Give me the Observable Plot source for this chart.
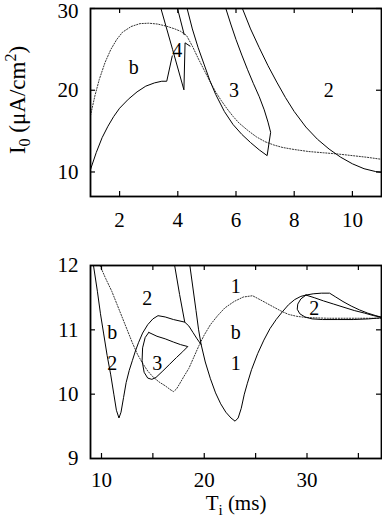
<!DOCTYPE html>
<html><head><meta charset="utf-8">
<script src="https://cdn.jsdelivr.net/npm/d3@7"></script>
<script src="https://cdn.jsdelivr.net/npm/@observablehq/plot@0.6"></script>
<style>
html,body{margin:0;padding:0;background:#fff;}
#chart{width:382px;}
#chart svg{display:block;}
#chart svg, #chart svg text{font-family:"Liberation Serif","Times New Roman","DejaVu Serif",serif !important;}
</style></head><body><div id="chart"></div>
<script>
const FONT = "Liberation Serif";

// ---------- top panel data (Ti in ms, I0 in uA/cm2) ----------
const topXTicks = [2, 4, 6, 8, 10];
const topYLabels = [10, 20];
const topYEdgeLabels = [30];
const topYTicks = [10, 20, 30];
const topDotted = [[1,16.9],[1.15,19.3],[1.3,21.3],[1.5,23.4],[1.7,25.0],[1.9,26.2],[2.1,27.1],[2.4,27.8],[2.7,28.15],[3.0,28.2],[3.3,28.1],[3.6,27.85],[3.9,27.5],[4.1,27.2],[4.3,26.7],[4.5,25.4],[4.7,23.9],[4.9,22.5],[5.1,21.1],[5.3,19.8],[5.5,18.7],[5.7,17.7],[5.9,16.8],[6.1,16.0],[6.4,15.1],[6.7,14.3],[7.0,13.7],[7.3,13.3],[7.6,13.0],[8.0,12.75],[8.5,12.5],[9.0,12.35],[9.5,12.2],[10.0,12.0],[10.5,11.8],[11.0,11.55]];
const topLowerB = [[1,10.3],[1.2,12.4],[1.4,14.2],[1.6,15.6],[1.8,16.8],[2.0,17.8],[2.3,18.9],[2.6,19.8],[2.9,20.5],[3.2,20.9],[3.45,21.1],[3.62,21.1],[3.81,24.2]];
const topWedge = [[3.42,30],[3.82,25.0],[4.21,20.05],[4.25,25.8],[4.42,25.4]];
const topWedgeRight = [[3.99,30],[4.22,26.8]];
const topRegion3 = [[4.32,30],[4.5,27.5],[4.7,25.2],[4.9,23.2],[5.1,21.2],[5.3,19.5],[5.6,17.4],[5.9,15.8],[6.2,14.6],[6.5,13.6],[6.8,12.7],[7.07,12.0],[7.19,14.85],[7.1,16.1],[6.97,17.6],[6.8,19.2],[6.6,20.8],[6.4,22.5],[6.2,24.3],[6.0,26.2],[5.82,28.1],[5.65,30]];
const topRegion2 = [[6.22,30],[6.5,27.5],[6.8,25.2],[7.1,23.0],[7.4,21.0],[7.7,19.1],[8.0,17.4],[8.4,15.5],[8.8,14.0],[9.2,12.8],[9.6,11.8],[10.0,11.0],[10.4,10.4],[10.8,10.05],[11,9.95]];
const topLabelText = ["b", "4", "3", "2"];
const topLabelX = [2.49, 3.98, 5.93, 9.19];
const topLabelY = [22.8, 24.9, 20.0, 20.0];

// ---------- bottom panel data ----------
const botXLabels = [10, 20, 30];
const botXTicks = [10, 15, 20, 25, 30, 35];
const botYLabels = [9, 10, 11, 12];
const botYTicks = [10, 11];
const botDotted = [[9.85,12],[10.4,11.8],[11.0,11.6],[11.5,11.4],[12.0,11.2],[12.5,11.0],[13.0,10.8],[13.5,10.62],[14.0,10.48],[14.5,10.36],[15.0,10.27],[15.6,10.19],[16.2,10.13],[16.7,10.07],[17.0,10.04],[17.3,10.08],[17.6,10.16],[18.0,10.27],[18.5,10.4],[19.0,10.58],[19.5,10.76],[20.0,10.92],[20.6,11.08],[21.3,11.22],[22.0,11.34],[22.9,11.44],[23.8,11.51],[24.7,11.53],[25.3,11.48],[26.0,11.42],[26.8,11.35],[27.5,11.29],[28.2,11.24],[29.0,11.21],[30.0,11.19],[32,11.18],[35,11.18],[37.4,11.18]];
const botLeft = [[9.22,12],[9.6,11.6],[9.9,11.25],[10.2,10.95],[10.55,10.6],[10.9,10.3],[11.2,10.0],[11.45,9.75],[11.7,9.63],[11.9,9.72],[12.15,9.95],[12.4,10.18],[12.7,10.37],[13.0,10.52],[13.3,10.67],[13.6,10.8],[14.0,10.95],[14.5,11.08],[15.0,11.17],[15.5,11.22],[16.2,11.2],[17.0,11.16],[18.1,11.12],[18.5,11.06],[18.9,10.96],[19.3,10.86],[19.7,10.77]];
const botUpperA = [[17.12,12],[17.6,11.55],[18.1,11.12]];
const botMid = [[18.6,12],[18.9,11.65],[19.2,11.3],[19.45,11.0],[19.7,10.77],[20.1,10.5],[20.6,10.24],[21.1,10.02],[21.6,9.85],[22.1,9.72],[22.6,9.63],[23.0,9.58],[23.3,9.63],[23.6,9.78],[23.9,10.0],[24.2,10.17],[24.6,10.38],[25.2,10.63],[25.8,10.84],[26.4,11.02],[27.0,11.16],[27.6,11.28],[28.2,11.39],[28.8,11.47],[29.4,11.52],[29.9,11.54]];
const botTop = [[29.9,11.54],[30.6,11.56],[31.4,11.57],[32.2,11.57],[32.8,11.51],[33.5,11.44],[34.3,11.37],[35.1,11.31],[35.9,11.26],[36.7,11.22],[37.4,11.19]];
const botInner = [[29.9,11.54],[30.7,11.5],[31.6,11.45],[32.6,11.4],[33.6,11.35],[34.6,11.3],[35.6,11.26],[36.5,11.22],[37.4,11.19]];
const botLoop = [[29.9,11.54],[29.4,11.48],[29.1,11.4],[29.05,11.32],[29.3,11.25],[29.8,11.2],[30.5,11.17],[31.5,11.16],[33,11.16],[34.5,11.16],[36,11.17],[37.4,11.19]];
const bot3 = [[14.6,10.96],[15.4,10.9],[16.2,10.86],[17.0,10.81],[17.7,10.77],[18.4,10.74],[17.9,10.66],[17.3,10.57],[16.6,10.46],[15.9,10.35],[15.3,10.26],[14.9,10.23],[14.5,10.25],[14.15,10.34],[13.95,10.52],[14.0,10.72],[14.25,10.88],[14.6,10.96]];
const botLabelText = ["2", "b", "2", "3", "1", "b", "1", "2"];
const botLabelX = [14.45, 11.05, 11.05, 15.43, 23.07, 23.07, 23.07, 30.71];
const botLabelY = [11.48, 10.96, 10.47, 10.47, 11.67, 10.96, 10.47, 11.33];

const W = 382;
function solid(data) {
  return Plot.line(data, {x: d => d[0], y: d => d[1], stroke: "#000", strokeWidth: 1, clip: true});
}
function dotted(data) {
  return Plot.line(data, {x: d => d[0], y: d => d[1], stroke: "#333", strokeWidth: 1, strokeDasharray: "1.2,1.6", clip: true});
}
function panel(cfg) {
  const innerH = cfg.height - cfg.marginTop - cfg.marginBottom;
  const innerW = W - cfg.marginLeft - cfg.marginRight;
  const tl = 5;
  const tickStyle = {stroke: "#000", strokeWidth: 1.2};
  const yText = {tickSize: 0, tickPadding: 12, tickFormat: "d", fontSize: 21, fontFamily: FONT, fill: "#000", label: null};
  const marks = [
    ...cfg.curves,
    Plot.tickX(cfg.xTicks, {x: d => d, insetTop: innerH - tl, ...tickStyle}),
    Plot.tickX(cfg.xTicks, {x: d => d, insetBottom: innerH - tl, ...tickStyle}),
    Plot.tickY(cfg.yTicks, {y: d => d, insetRight: innerW - tl, ...tickStyle}),
    Plot.tickY(cfg.yTicks, {y: d => d, insetLeft: innerW - tl, ...tickStyle}),
    Plot.frame({stroke: "#000", strokeWidth: 1.8}),
    Plot.axisX(cfg.xLabels, {tickSize: 0, tickPadding: cfg.xPad, tickFormat: "d", fontSize: 21, fontFamily: FONT, fill: "#000", label: null}),
    Plot.axisY(cfg.yLabels, yText),
    Plot.text(cfg.labelText, {x: (d, i) => cfg.labelX[i], y: (d, i) => cfg.labelY[i], text: d => d, fontSize: 20, fontFamily: FONT, fill: "#000"})
  ];
  if (cfg.yEdgeLabels) marks.push(Plot.axisY(cfg.yEdgeLabels, {...yText, dy: 3}));
  return Plot.plot({
    width: W, height: cfg.height,
    marginLeft: cfg.marginLeft, marginRight: cfg.marginRight,
    marginTop: cfg.marginTop, marginBottom: cfg.marginBottom,
    style: {background: "#fff", fontFamily: FONT, overflow: "visible"},
    x: {domain: cfg.xDomain, label: null},
    y: {domain: cfg.yDomain, label: null},
    marks
  });
}

const topPlot = panel({
  height: 240, marginLeft: 90, marginRight: 1, marginTop: 8, marginBottom: 44,
  xDomain: [1, 11], yDomain: [7, 30], xPad: 16,
  xTicks: topXTicks, xLabels: topXTicks, yTicks: topYTicks, yLabels: topYLabels, yEdgeLabels: topYEdgeLabels,
  curves: [dotted(topDotted), solid(topLowerB), solid(topWedge), solid(topWedgeRight), solid(topRegion3), solid(topRegion2)],
  labelText: topLabelText, labelX: topLabelX, labelY: topLabelY
});
const bottomPlot = panel({
  height: 283, marginLeft: 90, marginRight: 1, marginTop: 25, marginBottom: 65,
  xDomain: [8.93, 37.25], yDomain: [9, 12], xPad: 14,
  xTicks: botXTicks, xLabels: botXLabels, yTicks: botYTicks, yLabels: botYLabels,
  curves: [dotted(botDotted), solid(botLeft), solid(botUpperA), solid(botMid), solid(botTop), solid(botInner), solid(botLoop), solid(bot3)],
  labelText: botLabelText, labelX: botLabelX, labelY: botLabelY
});

const chart = document.getElementById("chart");
chart.appendChild(topPlot);
chart.appendChild(bottomPlot);

// y axis title (top panel)
const yt = d3.select(topPlot).append("text")
  .attr("transform", "translate(25,100) rotate(-90)")
  .attr("text-anchor", "middle")
  .attr("font-family", FONT).attr("font-size", 23).attr("fill", "#000");
yt.append("tspan").text("I");
yt.append("tspan").attr("font-size", 16).attr("dy", 5).text("0");
yt.append("tspan").attr("dy", -5).text(" (\u03BCA/cm");
yt.append("tspan").attr("font-size", 16).attr("dy", -9).text("2");
yt.append("tspan").attr("dy", 9).text(")");

// x axis title (bottom panel)
const xt = d3.select(bottomPlot).append("text")
  .attr("x", 236).attr("y", 270)
  .attr("text-anchor", "middle")
  .attr("font-family", FONT).attr("font-size", 21).attr("fill", "#000");
xt.append("tspan").text("T");
xt.append("tspan").attr("font-size", 15).attr("dy", 5).text("i");
xt.append("tspan").attr("dy", -5).text(" (ms)");
</script>
</body></html>
